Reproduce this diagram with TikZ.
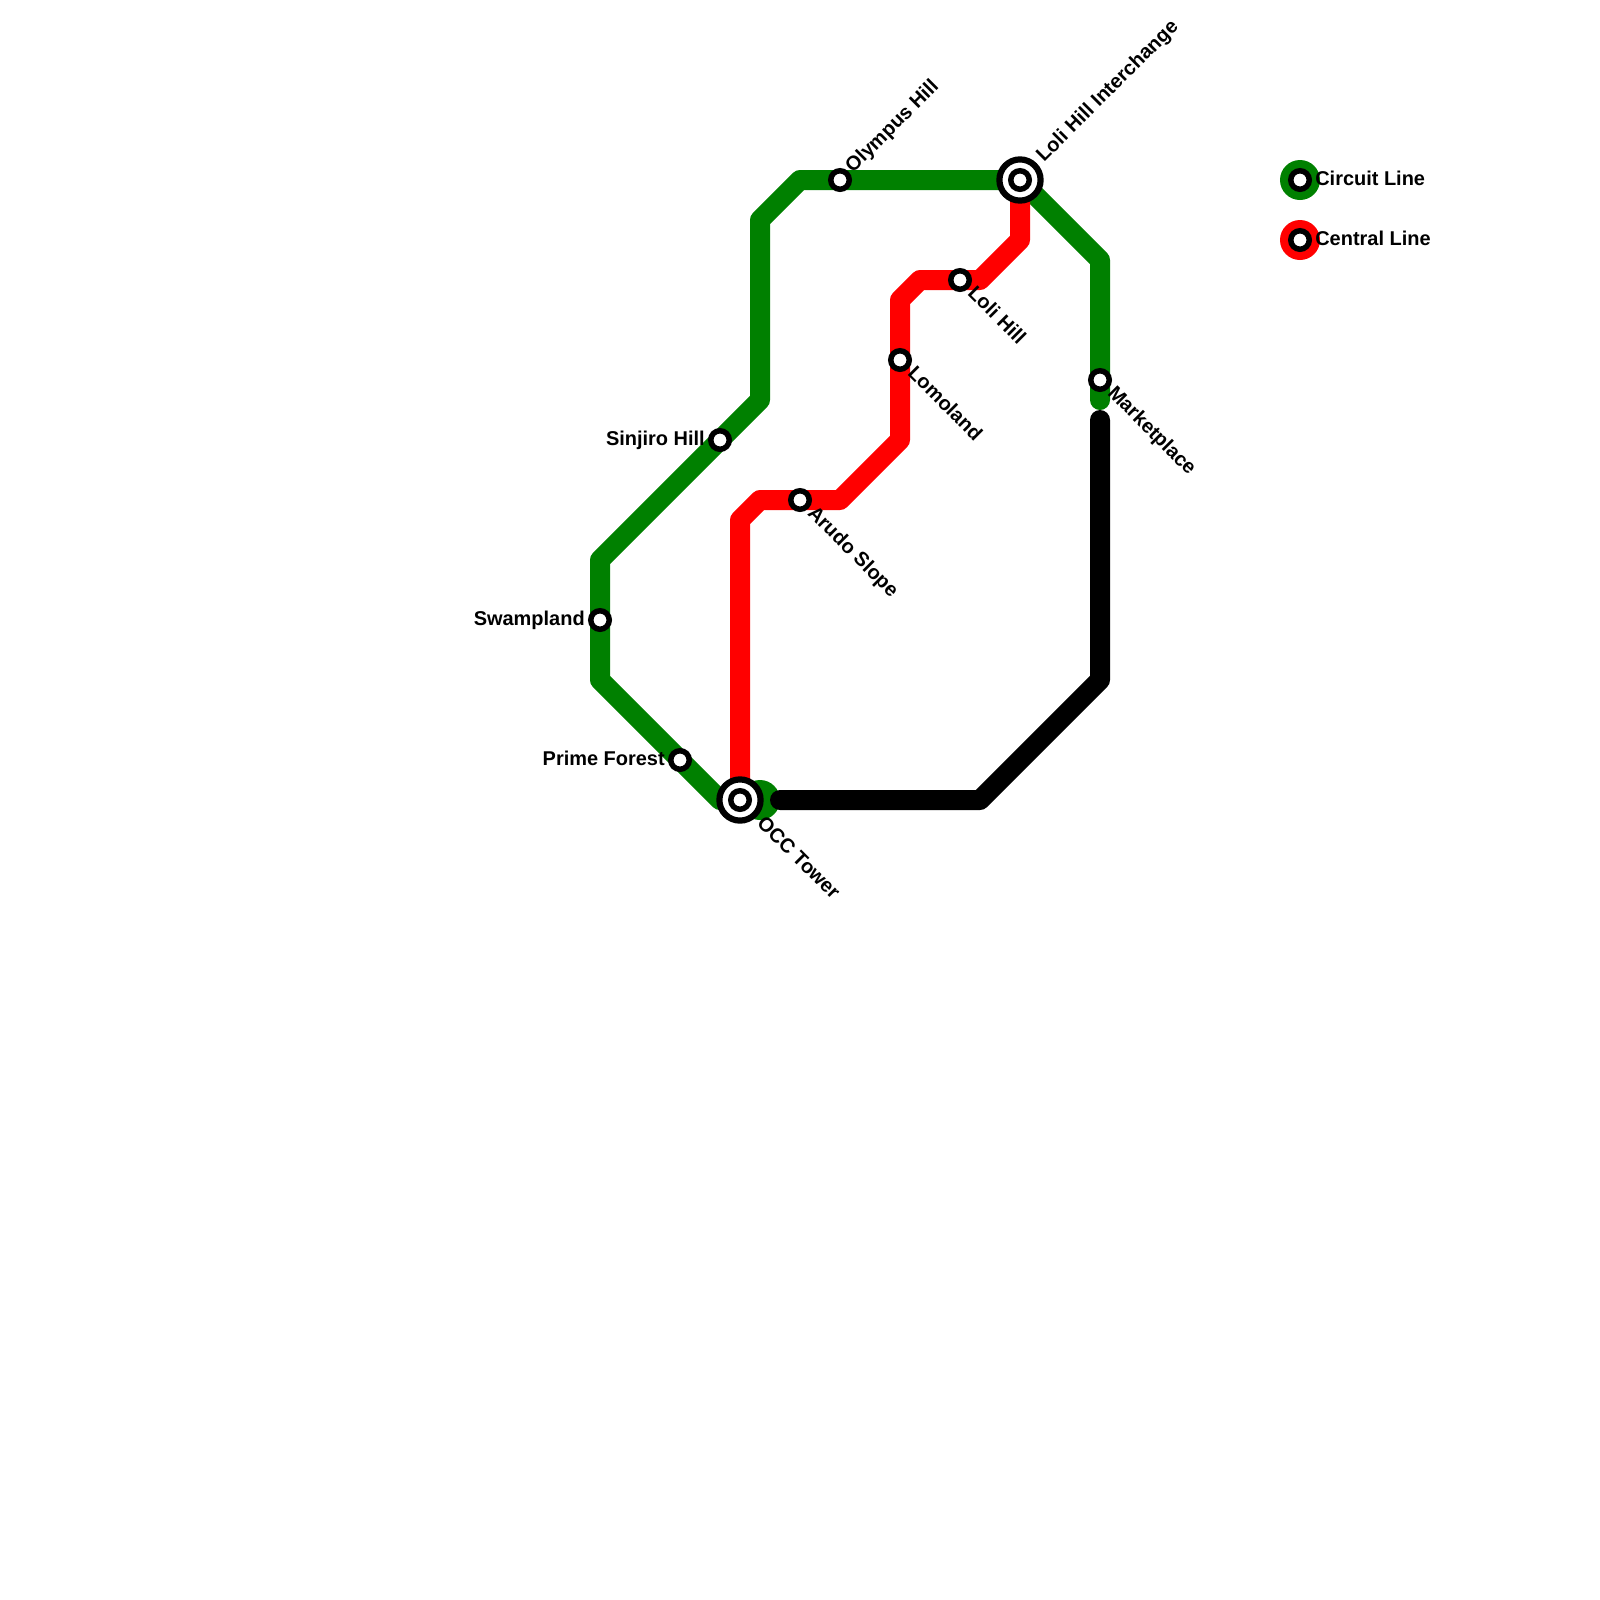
\documentclass[tikz,border=0pt]{standalone}
\usepackage{fontspec}
\setmainfont{Liberation Sans}
\usetikzlibrary{backgrounds}
\definecolor{circuitgreen}{HTML}{008000}
\definecolor{centralred}{HTML}{FF0000}
\begin{document}
\begin{tikzpicture}[x=0.5cm,y=-0.5cm,
      stationdot/.style={circle,draw=black,fill=white,line width=0.1375cm,
                  minimum size=0.4625cm,inner sep=0pt},
      hubring/.style={circle,draw=black,fill=white,line width=0.155cm,
                  minimum size=1.03cm,inner sep=0pt},
      routeline/.style={line width=0.5cm,line cap=round,line join=round},
      linedisc/.style={circle,minimum size=1cm,inner sep=0pt},
      stationlabel/.style={inner sep=0pt,font=\bfseries\fontsize{14.2}{16}\selectfont}]
    \useasboundingbox (0,0) rectangle (80,80);

    \node[hubring]    (occring)  at(37,40){};
    \node[stationdot] (occ)      at(37,40){};
    \node[hubring]    (lhiring)  at(51,9){};
    \node[stationdot] (lhi)      at(51,9){};
    \node[stationdot] (prime)    at(34,38){};
    \node[stationdot] (swamp)    at(30,31){};
    \node[stationdot] (sinjiro)  at(36,22){};
    \node[stationdot] (olympus)  at(42,9){};
    \node[stationdot] (market)   at(55,19){};
    \node[stationdot] (arudo)    at(40,25){};
    \node[stationdot] (lomo)     at(45,18){};
    \node[stationdot] (lolihill) at(48,14){};

    \coordinate (g1) at(36,40);
    \coordinate (g2) at(30,34);
    \coordinate (g3) at(30,28);
    \coordinate (g4) at(38,20);
    \coordinate (g5) at(38,11);
    \coordinate (g6) at(40,9);
    \coordinate (g7) at(55,13);
    \coordinate (g8) at(55,20);
    \coordinate (r1) at(37,26);
    \coordinate (r2) at(38,25);
    \coordinate (r3) at(42,25);
    \coordinate (r4) at(45,22);
    \coordinate (r5) at(45,15);
    \coordinate (r6) at(46,14);
    \coordinate (r7) at(49,14);
    \coordinate (r8) at(51,12);
    \coordinate (k1) at(39,40);
    \coordinate (k2) at(49,40);
    \coordinate (k3) at(55,34);
    \coordinate (k4) at(55,21);

    \begin{scope}[on background layer]
      \node[linedisc,fill=circuitgreen] (occend) at(38,40){};
      \draw[routeline,circuitgreen] (occend.center) -- (g1) -- (g2) -- (g3) -- (g4) -- (g5) -- (g6)
          -- (lhi.center) -- (g7) -- (g8);
      \draw[routeline,centralred] (occ.center) -- (r1) -- (r2) -- (r3) -- (r4) -- (r5) -- (r6)
          -- (r7) -- (r8) -- (lhi.center);
      \draw[routeline,black] (k1) -- (k2) -- (k3) -- (k4);
    \end{scope}

    \node[stationlabel,anchor=base east]          (primetext)   at(33.25,38.27){Prime Forest};
    \node[stationlabel,anchor=base east]          (swamptext)   at(29.25,31.27){Swampland};
    \node[stationlabel,anchor=base east]          (sinjirotext) at(35.25,22.27){Sinjiro Hill};
    \node[stationlabel,anchor=base west,rotate=45]  (olympustext) at(42.65,8.7){Olympus Hill};
    \node[stationlabel,anchor=base west,rotate=45]  (lhitext)     at(52.2,8.15){Loli Hill Interchange};
    \node[stationlabel,anchor=base west,rotate=-45] (markettext)  at(55.33,19.7){Marketplace};
    \node[stationlabel,anchor=base west,rotate=-45] (arudotext)   at(40.33,25.7){Arudo Slope};
    \node[stationlabel,anchor=base west,rotate=-45] (lomotext)    at(45.33,18.7){Lomoland};
    \node[stationlabel,anchor=base west,rotate=-45] (lolitext)    at(48.33,14.7){Loli Hill};
    \node[stationlabel,anchor=base west,rotate=-45] (occtext)     at(37.8,41.2){OCC Tower};

    \node[linedisc,fill=circuitgreen] (keygreen) at(65,9){};
    \node[stationdot]                 (keygreendot) at(65,9){};
    \node[linedisc,fill=centralred]   (keyred)   at(65,12){};
    \node[stationdot]                 (keyreddot)   at(65,12){};
    \node[stationlabel,anchor=base west] (keygreentext) at(65.75,9.27){Circuit Line};
    \node[stationlabel,anchor=base west] (keyredtext)   at(65.75,12.27){Central Line};
  \end{tikzpicture}
\end{document}
